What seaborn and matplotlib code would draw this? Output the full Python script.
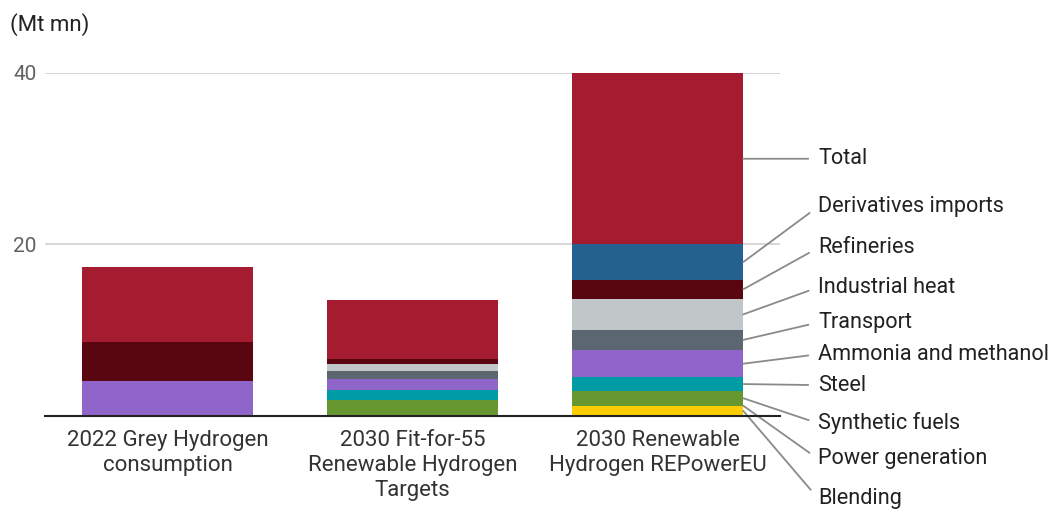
import pandas as pd
import numpy as np
import matplotlib
matplotlib.use("Agg")
import matplotlib.pyplot as plt
import seaborn as sns

# %%
categories = ["2022 Grey Hydrogen\nconsumption",
              "2030 Fit-for-55\nRenewable Hydrogen\nTargets",
              "2030 Renewable\nHydrogen REPowerEU"]

# stacked bottom -> top
segments = ["Blending", "Power generation", "Synthetic fuels", "Steel",
            "Ammonia and methanol", "Transport", "Industrial heat",
            "Refineries", "Derivatives imports", "Total"]

blending = [0, 0, 1.2]
power_generation = [0, 0, 0.0]
synthetic_fuels = [0, 1.9, 1.75]
steel = [0, 1.15, 1.55]
ammonia_methanol = [4.1, 1.25, 3.2]
transport = [0, 1.0, 2.35]
industrial_heat = [0, 0.75, 3.6]
refineries = [4.5, 0.65, 2.25]
derivatives_imports = [0, 0, 4.1]
total = [8.8, 6.8, 20.0]

values = [blending, power_generation, synthetic_fuels, steel, ammonia_methanol,
          transport, industrial_heat, refineries, derivatives_imports, total]

colors = ["#FFCC00", "#F28E2B", "#66982F", "#009CA6", "#8F65C9",
          "#5B6670", "#C1C6C8", "#5A0610", "#23628E", "#A51C30"]

# label y positions (data units) for the right-hand call-outs
label_y = [-9.6, -5.0, -0.85, 3.6, 7.2, 10.9, 15.0, 19.6, 24.4, 30.0]

# %%
df = pd.DataFrame(values, index=segments, columns=categories).T
cum = df.cumsum(axis=1)

plt.rcParams['font.family'] = ['Roboto', 'DejaVu Sans']
fig = plt.figure(figsize=(10.52, 5.12), dpi=100)
ax = fig.add_axes([45 / 1052, 96 / 512, 735 / 1052, 343 / 512])

# draw cumulative heights from the top layer down so each one overlays the next
for seg, col in zip(segments[::-1], colors[::-1]):
    plot_df = pd.DataFrame({"cat": categories, "val": cum[seg].values})
    sns.barplot(data=plot_df, x="cat", y="val", color=col, width=0.7,
                saturation=1, ax=ax, linewidth=0, zorder=3)

ax.set_xlim(-0.5, 2.5)
ax.set_ylim(0, 40)
ax.set_yticks([20, 40])
ax.yaxis.grid(True, color="#d0d0d0", lw=1.2, zorder=0)
ax.set_axisbelow(True)
for s in ["top", "right", "left"]:
    ax.spines[s].set_visible(False)
ax.spines["bottom"].set_color("#222222")
ax.spines["bottom"].set_linewidth(1.5)
ax.spines["bottom"].set_zorder(5)
ax.tick_params(axis="y", length=0, labelsize=15, labelcolor="#616161", pad=6)
ax.tick_params(axis="x", length=0, labelsize=16, labelcolor="#333333", pad=10)
for t in ax.get_xticklabels():
    t.set_linespacing(1.25)
ax.set_xlabel("")
ax.set_ylabel("")

fig.text(10 / 1052, 1 - 25 / 512, "(Mt mn)", fontsize=16, color="#222222", va="center")

# call-out labels pointing at segment midpoints of the last bar
last = categories[-1]
bottoms = cum.loc[last] - df.loc[last]
for seg, ly in zip(segments, label_y):
    mid = bottoms[seg] + df.loc[last, seg] / 2
    ax.annotate(seg, xy=(2.35, mid), xytext=(2.655, ly), textcoords="data",
                fontsize=15.6, color="#212121", va="center", ha="left",
                annotation_clip=False,
                arrowprops=dict(arrowstyle="-", color="#8a8a8a", lw=1.3,
                                relpos=(0, 0.5), shrinkA=5, shrinkB=0))

fig.savefig("out.png", dpi=100)
